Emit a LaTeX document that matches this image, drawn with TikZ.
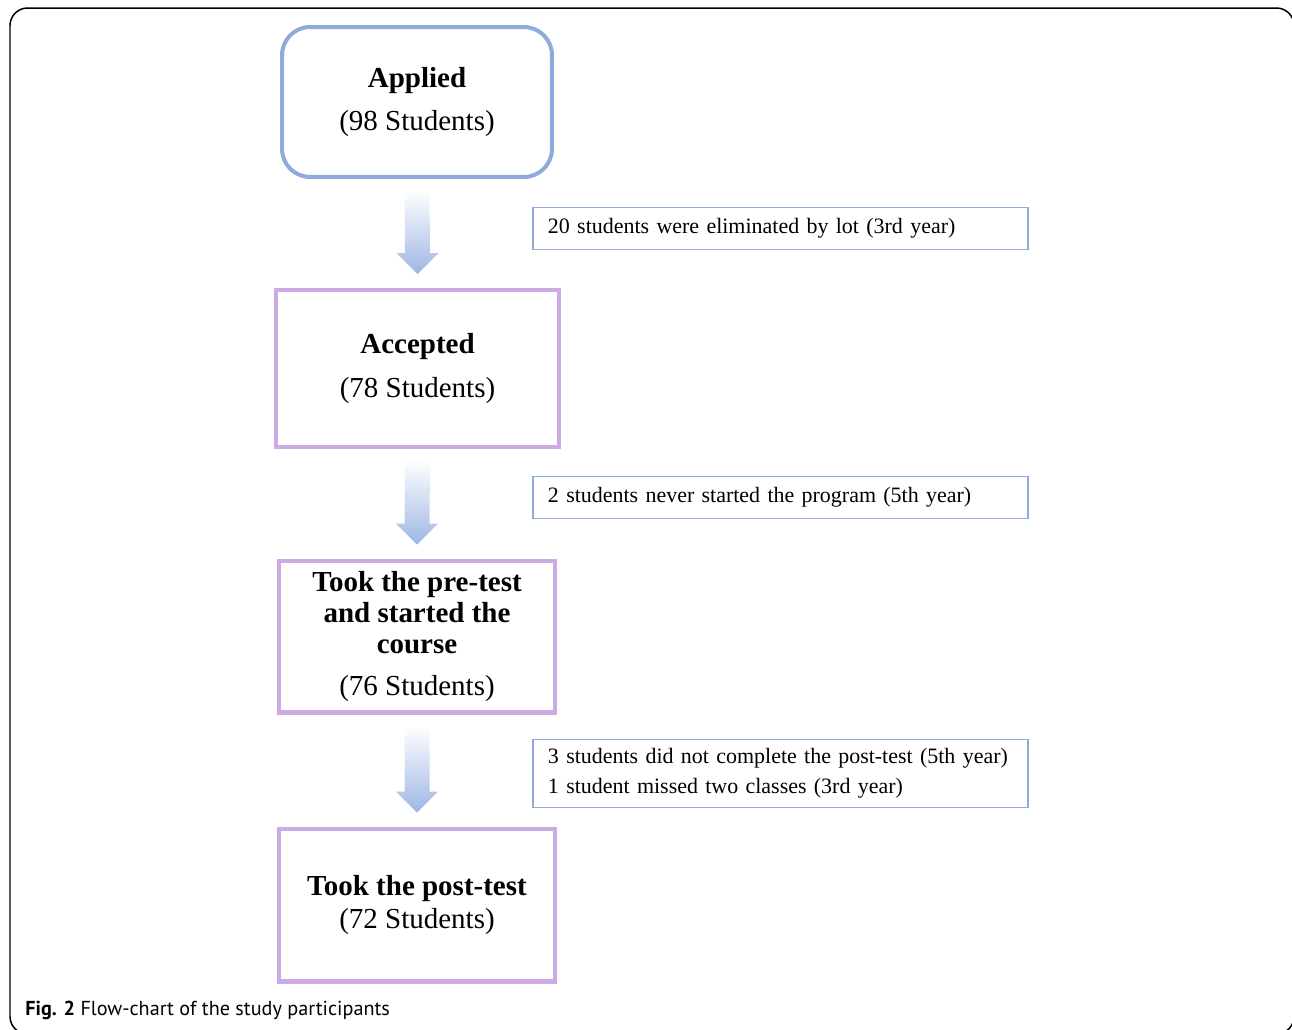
\documentclass[tikz,border=0pt]{standalone}
\usepackage{fontspec}
\setmainfont{Liberation Serif}
\newfontfamily\capfont{PT Sans}
\usetikzlibrary{positioning, calc}
\definecolor{boxblue}{RGB}{143,170,220}
\definecolor{boxpurple}{RGB}{204,170,228}
\definecolor{arrowblue}{RGB}{158,182,228}

\begin{document}
\begin{tikzpicture}[x=0.02cm, y=-0.02cm,
    mainbox/.style={draw=boxpurple, line width=2.28pt, align=center,
        minimum width=5.54cm, minimum height=3.04cm, inner sep=0pt,
        font=\fontsize{16.5}{17.5}\selectfont},
    sidebox/.style={draw=boxblue, line width=1.1pt, anchor=west, align=left,
        text width=9.3cm, inner xsep=0.3cm, inner ysep=0pt,
        minimum height=0.84cm, font=\fontsize{12.5}{17}\selectfont},
    flowarrow/.style={top color=white, middle color=arrowblue!40, bottom color=arrowblue}]
    \useasboundingbox (0,0) rectangle (1292,1029);

    % Outer frame
    \draw[line width=0.85pt, rounded corners=10pt] (10,8) rectangle (1294,1034);

    % Main boxes
    \node[mainbox, draw=boxblue, rounded corners=16pt,
        minimum width=5.4cm, minimum height=3.0cm] (applied) at (417,102)
        {\textbf{Applied}\\[7pt] (98 Students)};
    \node[mainbox, minimum width=5.66cm, minimum height=3.14cm] (accepted) at (417.5,368.5)
        {\textbf{Accepted}\\[7pt] (78 Students)};
    \node[mainbox] (pretest) at (417,636.5)
        {\textbf{Took the pre-test}\\ \textbf{and started the}\\ \textbf{course}\\[6.4pt] (76 Students)};
    \node[mainbox, minimum height=3.06cm] (posttest) at (417,905)
        {\textbf{Took the post-test}\\[1.3pt] (72 Students)};

    % Side notes
    \node[sidebox] (lot) at (532,228.5) {20 students were eliminated by lot (3rd year)};
    \node[sidebox] (never) at (532,497.5) {2 students never started the program (5th year)};
    \node[sidebox, minimum height=1.36cm] (missed) at (532,773.5)
        {3 students did not complete the post-test (5th year)\\
         1 student missed two classes (3rd year)};

    % Block arrows between the boxes
    \foreach \a/\b in {applied/accepted, accepted/pretest, pretest/posttest} {
        \shade[flowarrow]
            ($(\a.south)+(-12.5,11)$) -- ($(\a.south)+(12.5,11)$)
            -- ($(\b.north)+(12.5,-35)$) -- ($(\b.north)+(21,-35)$)
            -- ($(\b.north)+(0,-14)$)
            -- ($(\b.north)+(-21,-35)$) -- ($(\b.north)+(-12.5,-35)$) -- cycle;
    }

    % Caption
    \node[anchor=west, inner sep=0pt, font=\capfont\fontsize{11.5}{14}\selectfont] (caption)
        at (25,1010) {\textbf{Fig. 2} Flow-chart of the study participants};
\end{tikzpicture}
\end{document}
